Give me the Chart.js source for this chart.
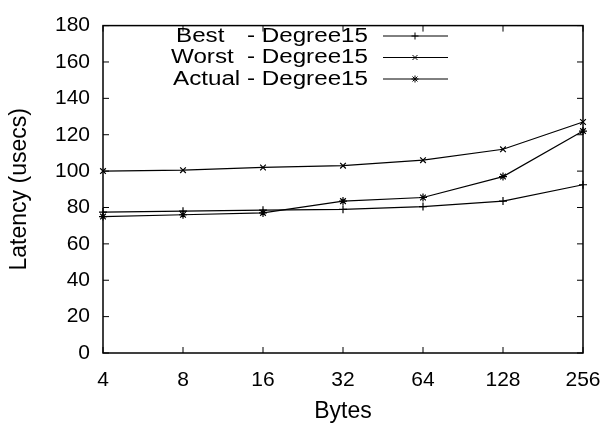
<!DOCTYPE html>
<html>
<head>
<meta charset="utf-8">
<script src="https://cdn.jsdelivr.net/npm/chart.js@4"></script>
<style>
  html, body { margin: 0; padding: 0; background: #fff; }
  #wrap { width: 607px; height: 433px; }
</style>
</head>
<body>
<div id="wrap"><canvas id="myChart" width="607" height="433"></canvas></div>
<script>
var bytes = ["4", "8", "16", "32", "64", "128", "256"];
var best = [77.5, 78, 78.5, 79, 80.5, 83.5, 92.5];
var worst = [100, 100.5, 102, 103, 106, 112, 127];
var actual = [75, 76, 77, 83.5, 85.5, 97, 122];
var seriesNames = ["Best   - Degree15", "Worst  - Degree15", "Actual - Degree15"];
var yTicks = [0, 20, 40, 60, 80, 100, 120, 140, 160, 180];

var FONT = '"Liberation Sans", Arial, sans-serif';

// frame + inward ticks on all four sides, gnuplot style
var framePlugin = {
    id: 'frame',
    afterDatasetsDraw: function (chart) {
        var c = chart.ctx, a = chart.chartArea;
        var xs = chart.scales.x, ys = chart.scales.y;
        c.save();
        c.strokeStyle = '#000';
        c.lineWidth = 1.5;
        c.strokeRect(a.left, a.top, a.right - a.left, a.bottom - a.top);
        c.lineWidth = 1;
        c.beginPath();
        bytes.forEach(function (b, i) {
            var x = xs.getPixelForValue(i);
            c.moveTo(x, a.bottom); c.lineTo(x, a.bottom - 6);
            c.moveTo(x, a.top); c.lineTo(x, a.top + 6);
        });
        yTicks.forEach(function (v) {
            var y = ys.getPixelForValue(v);
            c.moveTo(a.left, y); c.lineTo(a.left + 6, y);
            c.moveTo(a.right, y); c.lineTo(a.right - 6, y);
        });
        c.stroke();
        c.restore();
    }
};

// key in the top right: "<name> - Degree15" then a line sample with the point
var keyPlugin = {
    id: 'key',
    afterDraw: function (chart) {
        var c = chart.ctx;
        var headX = [176, 171, 173];
        var textRight = 368;
        c.save();
        c.font = '20px ' + FONT;
        c.fillStyle = '#000';
        c.textBaseline = 'middle';
        var tail = '- Degree15';
        var sx = 195 / c.measureText('Actual - Degree15').width;
        chart.data.datasets.forEach(function (ds, i) {
            var y = 36 + i * 21.5;
            var head = ds.label.split('-')[0].trim();
            c.save();
            c.translate(headX[i], y);
            c.scale(sx, 1);
            c.textAlign = 'left';
            c.fillText(head, 0, 0);
            c.restore();
            c.save();
            c.translate(textRight, y);
            c.scale(sx, 1);
            c.textAlign = 'right';
            c.fillText(tail, 0, 0);
            c.restore();
            c.strokeStyle = '#000';
            c.lineWidth = 1;
            c.beginPath();
            c.moveTo(383, y); c.lineTo(448, y);
            c.stroke();
            Chart.helpers.drawPoint(c, { pointStyle: ds.pointStyle, radius: 3.5, rotation: 0, borderWidth: 1 }, 415, y);
        });
        c.restore();
    }
};

var ctx = document.getElementById('myChart').getContext('2d');

function series(label, data, style) {
    return {
        label: label,
        data: data,
        borderColor: '#000',
        backgroundColor: '#000',
        borderWidth: 1.2,
        pointStyle: style,
        pointRadius: 4,
        pointBorderWidth: 1.2,
        pointBorderColor: '#000',
        tension: 0,
        fill: false
    };
}

var chart = new Chart(ctx, {
    type: 'line',
    data: {
        labels: bytes,
        datasets: [
            series(seriesNames[0], best, 'cross'),
            series(seriesNames[1], worst, 'crossRot'),
            series(seriesNames[2], actual, 'star')
        ]
    },
    plugins: [framePlugin, keyPlugin],
    options: {
        responsive: false,
        animation: false,
        layout: { padding: { top: 15, right: 24, left: 6, bottom: 8 } },
        plugins: {
            legend: { display: false },
            tooltip: { enabled: false }
        },
        scales: {
            x: {
                type: 'category',
                offset: false,
                grid: { display: false, drawTicks: false },
                border: { display: false },
                ticks: { color: '#000', font: { family: FONT, size: 21 }, padding: 15, maxRotation: 0, autoSkip: false },
                title: { display: true, text: 'Bytes', color: '#000', font: { family: FONT, size: 23 }, padding: { top: 4, bottom: 0 } },
                afterFit: function (s) { s.height = 72; s.paddingLeft = 0; s.paddingRight = 0; }
            },
            y: {
                min: 0,
                max: 180,
                grid: { display: false, drawTicks: false },
                border: { display: false },
                ticks: { stepSize: 20, color: '#000', font: { family: FONT, size: 21 }, padding: 13 },
                title: { display: true, text: 'Latency (usecs)', color: '#000', font: { family: FONT, size: 23 }, padding: { top: 0, bottom: 4 } },
                afterFit: function (s) { s.width = 97; }
            }
        }
    }
});
</script>
</body>
</html>
